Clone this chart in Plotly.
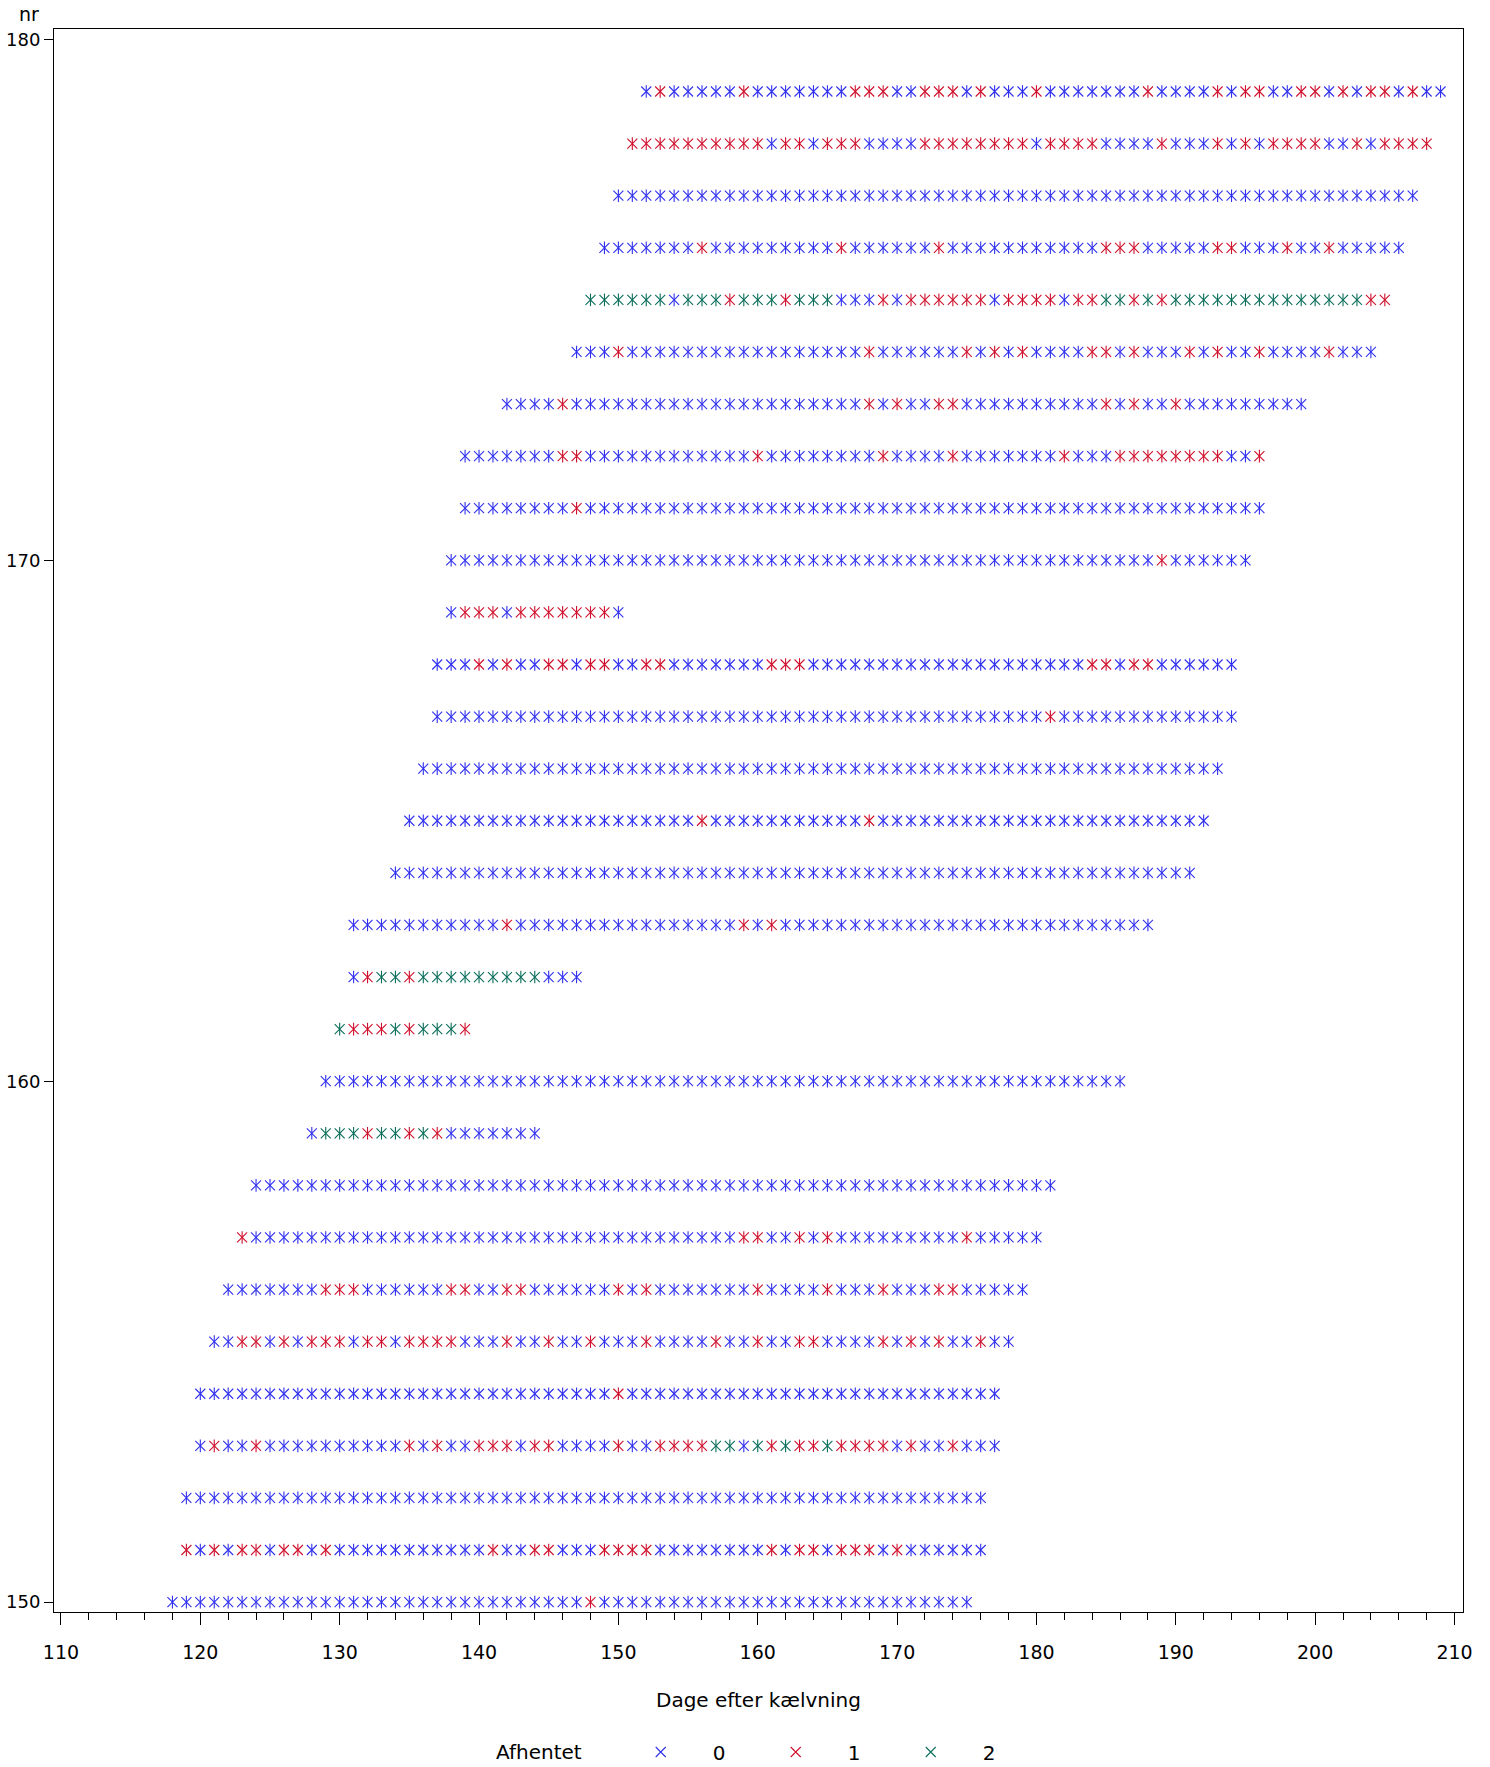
import plotly.graph_objects as go

# ---- data ----
nr = list(range(150, 180))
start_day = [118, 119, 119, 120, 120, 121, 122, 123, 124, 128,
             129, 130, 131, 131, 134, 135, 136, 137, 137, 138,
             138, 139, 139, 142, 147, 148, 149, 150, 151, 152]
end_day = [175, 176, 176, 177, 177, 178, 179, 180, 181, 144,
           186, 139, 147, 188, 191, 192, 193, 194, 194, 150,
           195, 196, 196, 199, 204, 205, 206, 207, 208, 209]

# days with Afhentet = 1 (per row, same order as nr)
afhentet_1 = [
    [148],
    [119, 121, 123, 124, 126, 127, 129, 141, 144, 145, 149, 150, 151, 152, 161, 163, 164, 166, 167, 168, 170],
    [],
    [121, 124, 135, 137, 140, 141, 142, 144, 145, 150, 153, 154, 155, 156, 161, 163, 164, 166, 167, 168, 169, 171, 174],
    [150],
    [123, 124, 126, 128, 129, 130, 132, 133, 135, 136, 137, 138, 142, 145, 148, 152, 157, 160, 163, 164, 169, 171, 173, 176],
    [129, 130, 131, 138, 139, 142, 143, 150, 152, 160, 165, 169, 173, 174],
    [123, 159, 160, 163, 165, 175],
    [],
    [132, 135, 137],
    [],
    [131, 132, 133, 135, 139],
    [132, 135],
    [142, 159, 161],
    [],
    [156, 168],
    [],
    [181],
    [140, 142, 145, 146, 148, 149, 152, 153, 161, 162, 163, 184, 185, 187, 188],
    [139, 140, 141, 143, 144, 145, 146, 147, 148, 149],
    [189],
    [147],
    [146, 147, 160, 169, 174, 182, 186, 187, 188, 189, 190, 191, 192, 193, 196],
    [146, 168, 170, 173, 174, 185, 187, 190],
    [150, 168, 175, 177, 179, 184, 185, 187, 191, 193, 196, 201],
    [158, 162, 169, 171, 172, 173, 174, 175, 176, 178, 179, 180, 181, 183, 184, 187, 189, 204, 205],
    [156, 166, 173, 185, 186, 187, 193, 194, 198, 201],
    [],
    [151, 152, 153, 154, 155, 156, 157, 158, 159, 160, 162, 163, 165, 166, 167, 172, 173, 174, 175, 176,
     177, 178, 179, 181, 182, 183, 184, 189, 193, 195, 197, 198, 199, 200, 203, 205, 206, 207, 208],
    [153, 159, 167, 168, 169, 172, 173, 174, 176, 180, 188, 193, 195, 196, 199, 200, 202, 204, 205, 207],
]

# days with Afhentet = 2
afhentet_2 = [
    [], [], [], [157, 158, 160, 162, 165], [], [], [], [], [],
    [129, 130, 131, 133, 134, 136],
    [],
    [130, 134, 136, 137, 138],
    [133, 134, 136, 137, 138, 139, 140, 141, 142, 143, 144],
    [], [], [], [], [], [], [], [], [], [], [], [],
    [148, 149, 150, 151, 152, 153, 155, 156, 157, 159, 160, 161, 163, 164, 165, 185, 186, 188,
     190, 191, 192, 193, 194, 195, 196, 197, 198, 199, 200, 201, 202, 203],
    [], [], [], [],
]

categories = [0, 1, 2]
cat_colors = ["#3030f0", "#d0102c", "#0a6e5a"]
x_ticks = list(range(110, 211, 10))
y_ticks = [150, 160, 170, 180]

# ---- build points ----
pts = {c: ([], []) for c in categories}
for r, s, e, a1, a2 in zip(nr, start_day, end_day, afhentet_1, afhentet_2):
    for d in range(s, e + 1):
        c = 2 if d in a2 else (1 if d in a1 else 0)
        pts[c][0].append(d)
        pts[c][1].append(r)

FONT = "DejaVu Sans"
fig = go.Figure()
for c, col in zip(categories, cat_colors):
    xs, ys = pts[c]
    fig.add_trace(go.Scatter(
        x=xs, y=ys, mode="markers", name=str(c), legendgroup=str(c),
        marker=dict(symbol="x-thin", size=10, color=col, line=dict(width=1.1, color=col)),
        hoverinfo="x+y"))
    fig.add_trace(go.Scatter(
        x=xs, y=ys, mode="markers", name=str(c), legendgroup=str(c), showlegend=False,
        marker=dict(symbol="line-ns", size=9, color=col, line=dict(width=1.1, color=col)),
        hoverinfo="skip"))

fig.update_layout(
    width=1490, height=1767,
    margin=dict(l=54, r=27, t=29, b=155, autoexpand=False),
    paper_bgcolor="white", plot_bgcolor="white",
    font=dict(family=FONT, size=18, color="black"),
    showlegend=True,
    legend=dict(orientation="h", xref="container", x=494 / 1490, xanchor="left",
                yref="container", y=1 - 1752 / 1767, yanchor="middle",
                title=dict(text="Afhentet\u00a0\u00a0\u00a0", side="left", font=dict(size=20)),
                font=dict(size=20), entrywidth=26, entrywidthmode="pixels",
                itemwidth=94),
    annotations=[dict(text="nr", xref="paper", yref="paper", x=-0.0095, y=1.0095,
                      xanchor="right", yanchor="middle", showarrow=False,
                      font=dict(size=19, family=FONT))],
)
fig.update_xaxes(
    automargin=False,
    range=[109.5, 210.61], tickvals=x_ticks, ticks="outside", ticklen=12, tickwidth=1,
    tickcolor="black", ticklabelstandoff=11, tickfont=dict(size=19),
    minor=dict(dtick=2, tick0=110, ticks="outside", ticklen=7, tickwidth=1, tickcolor="black"),
    showgrid=False, zeroline=False, showline=True, linecolor="black", linewidth=1, mirror=True,
    title=dict(text="Dage efter kælvning", font=dict(size=20), standoff=31),
)
fig.update_yaxes(
    automargin=False,
    range=[149.81, 180.2], tickvals=y_ticks, ticks="outside", ticklen=9, tickwidth=1,
    tickcolor="black", tickfont=dict(size=18), showgrid=False, zeroline=False,
    showline=True, linecolor="black", linewidth=1, mirror=True,
)

fig.write_html("out.html", config={"displayModeBar": False},
               post_script="document.body.style.margin='0';")
